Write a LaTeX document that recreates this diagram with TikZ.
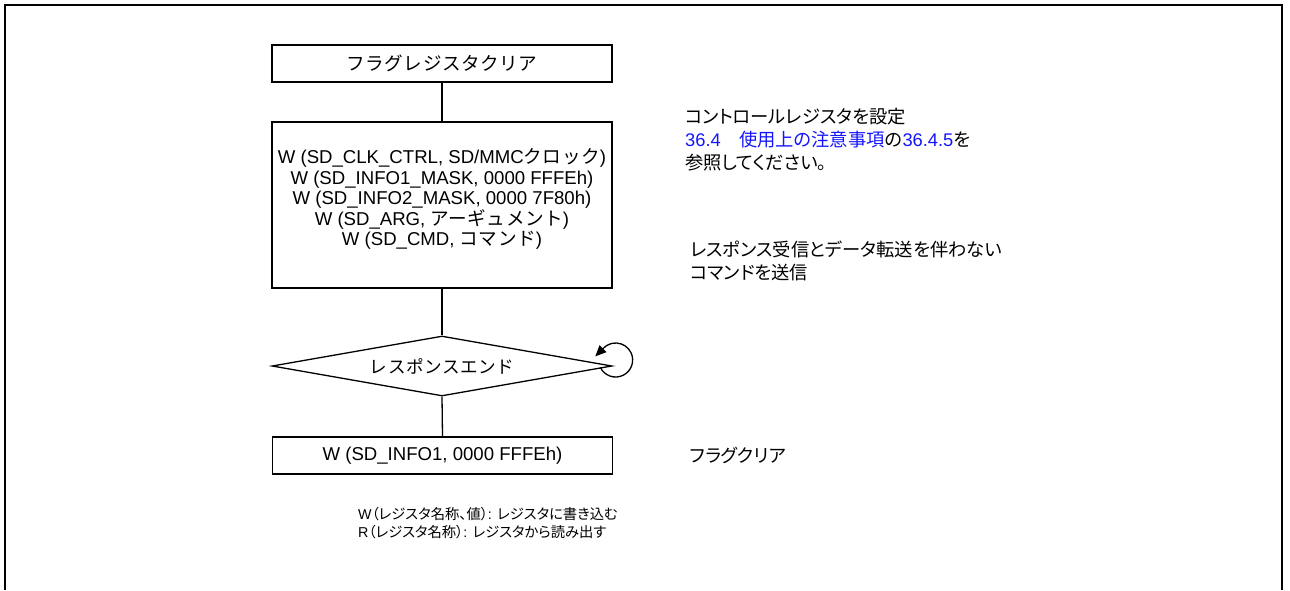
\documentclass[tikz,border=0pt]{standalone}
\usepackage{fontspec}
\setmainfont{Liberation Sans}
\newfontfamily\jpfont[LetterSpace=3]{Noto Sans CJK JP}
\newfontfamily\jppfont[RawFeature=+palt]{Noto Sans CJK JP}
\newcommand\jp[1]{{\jpfont #1}}
\newcommand\jq[1]{{\jppfont #1}}
\usetikzlibrary{shapes.geometric,arrows.meta}
\definecolor{linkblue}{RGB}{20,20,255}
\begin{document}
\begin{tikzpicture}[x=1pt,y=1pt,
  every node/.style={font=\fontsize{18.6}{20.5}\selectfont},
  boxnode/.style={draw,line width=1.3pt,minimum width=340pt,inner sep=0pt},
  flow/.style={line width=1.3pt},
  txt/.style={anchor=west,align=left,inner sep=0pt}]
\useasboundingbox (0,0) rectangle (1290,-590);
% frame
\draw[line width=2.7pt] (5,-590) -- (5,-5) -- (1282,-5) -- (1282,-590);
% flow
\node[boxnode,minimum height=37pt] (b1) at (442,-63.5) {\jp{フラグレジスタクリア}};
\node[boxnode,minimum height=166pt] (b2) at (442,-205) {};
\node[align=center,inner sep=0pt] (b2t) at (442,-199)
  {W (SD\_CLK\_CTRL, SD/MMC\jp{クロック})\\
   W (SD\_INFO1\_MASK, 0000 FFFEh)\\
   W (SD\_INFO2\_MASK, 0000 7F80h)\\
   W (SD\_ARG, \jp{アーギュメント})\\
   W (SD\_CMD, \jp{コマンド})};
\node[draw,diamond,aspect=5.67,inner sep=0pt,line width=1.3pt,minimum width=340pt,minimum height=60pt,font=\fontsize{17.6}{20}\selectfont] (d) at (442,-366) {\jp{レスポンスエンド}};
\node[boxnode,minimum height=37pt] (b3) at (442.5,-455.5) {W (SD\_INFO1, 0000 FFFEh)};
\draw[flow] (b1.south) -- (b2.north);
\draw[flow] (b2.south) -- (d.north);
\draw[flow] (d.south) -- (b3.north);
% loop
\coordinate (lc) at ([shift={(3,6)}]d.east);
\draw[flow,-{Triangle[length=11pt,width=9.5pt]}] ([shift={(206:17)}]lc) arc[start angle=206,end angle=498,radius=17] -- ++(225:11);
% annotations
\node[txt,font=\fontsize{18.3}{23}\selectfont] (a1) at (685,-140)
  {\jq{コントロールレジスタを設定}\\
   \textcolor{linkblue}{36.4\jq{　使用上の注意事項}}\jq{の}\textcolor{linkblue}{36.4.5}\jq{を}\\
   \jq{参照してください。}};
\node[txt,font=\fontsize{18.3}{23}\selectfont] (a2) at (690,-260.5)
  {\jq{レスポンス受信とデータ転送を伴わない}\\
   \jq{コマンドを送信}};
\node[txt,font=\fontsize{18.3}{23}\selectfont] (a3) at (690,-455) {\jq{フラグクリア}};
\node[txt,font=\fontsize{14.3}{18}\selectfont] (leg) at (358,-523)
  {W\jq{（レジスタ名称、値）}: \jq{レジスタに書き込む}\\
   R\jq{（レジスタ名称）}: \jq{レジスタから読み出す}};
\end{tikzpicture}
\end{document}
